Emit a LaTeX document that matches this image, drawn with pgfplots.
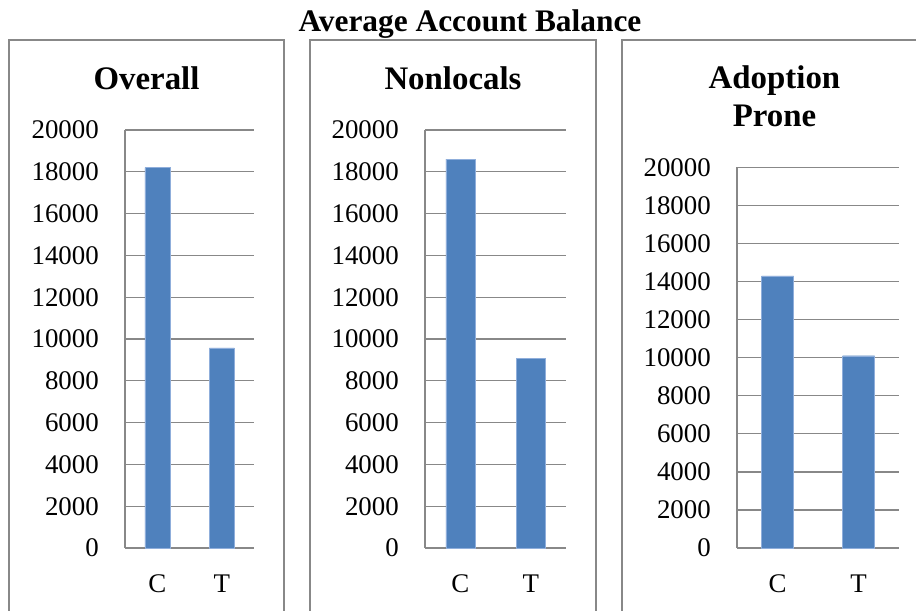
\documentclass[border=0pt]{standalone}
\usepackage{fontspec}
\setmainfont{Liberation Serif}
\usepackage{pgfplots}
\pgfplotsset{compat=1.18}
\definecolor{barblue}{HTML}{4F81BD}
\definecolor{baredge}{HTML}{8FAEDB}
\definecolor{framegray}{HTML}{888888}
\pgfplotsset{
  panel/.style={
    scale only axis, anchor=south west,
    ybar, ymin=0, ymax=20000, xmin=-0.5, xmax=1.5,
    xtick={0,1}, xticklabels={C,T},
    ytick={0,2000,...,20000},
    scaled y ticks=false,
    axis x line*=bottom, axis y line*=left,
    axis line style={-, draw=framegray, line width=1.3bp},
    ymajorgrids, grid style={draw=framegray, line width=1.3bp},
    major tick length=0pt,
    tick style={draw=none},
    /pgf/number format/assume math mode=true,
    /pgf/number format/1000 sep={},
    ticklabel style={font=\fontsize{27}{30}\selectfont},
    yticklabel style={anchor=east, inner sep=0pt, xshift=-26bp},
    xticklabel style={anchor=base, inner sep=0pt, yshift=-44.7bp},
    clip=false,
  }
}
\begin{document}
\begin{tikzpicture}[x=1bp,y=1bp]
% Overall
\begin{axis}[panel, at={(125bp,63bp)}, width=129bp, height=418bp]
\addplot[fill=barblue, draw=baredge, bar width=25bp] coordinates {(0,18200) (1,9570)};
\end{axis}
% Nonlocals
\begin{axis}[panel, at={(425bp,63bp)}, width=141bp, height=418bp]
\addplot[fill=barblue, draw=baredge, bar width=29bp] coordinates {(0,18600) (1,9070)};
\end{axis}
% Adoption Prone
\begin{axis}[panel, at={(737bp,63bp)}, width=162bp, height=380.7bp]
\addplot[fill=barblue, draw=baredge, bar width=32bp] coordinates {(0,14300) (1,10100)};
\end{axis}
% panel frames
\draw[framegray, line width=2bp] (9,-10) -- (9,571) -- (284,571) -- (284,-10);
\draw[framegray, line width=2bp] (310,-10) -- (310,571) -- (596,571) -- (596,-10);
\draw[framegray, line width=2bp] (622,-10) -- (622,571) -- (930,571) -- (930,-10);
% titles
\node[anchor=base, inner sep=0pt, font=\bfseries\fontsize{31.5}{36}\selectfont] at (470,579.3) {Average Account Balance};
\node[anchor=base, inner sep=0pt, font=\bfseries\fontsize{33}{38}\selectfont] at (146.5,521) {Overall};
\node[anchor=base, inner sep=0pt, font=\bfseries\fontsize{33}{38}\selectfont] at (453,521) {Nonlocals};
\node[anchor=base, inner sep=0pt, font=\bfseries\fontsize{33}{38}\selectfont] at (774.5,522) {Adoption};
\node[anchor=base, inner sep=0pt, font=\bfseries\fontsize{33}{38}\selectfont] at (774.5,484) {Prone};
\pgfresetboundingbox
\useasboundingbox (0,0) rectangle (916,611);
\end{tikzpicture}
\end{document}
